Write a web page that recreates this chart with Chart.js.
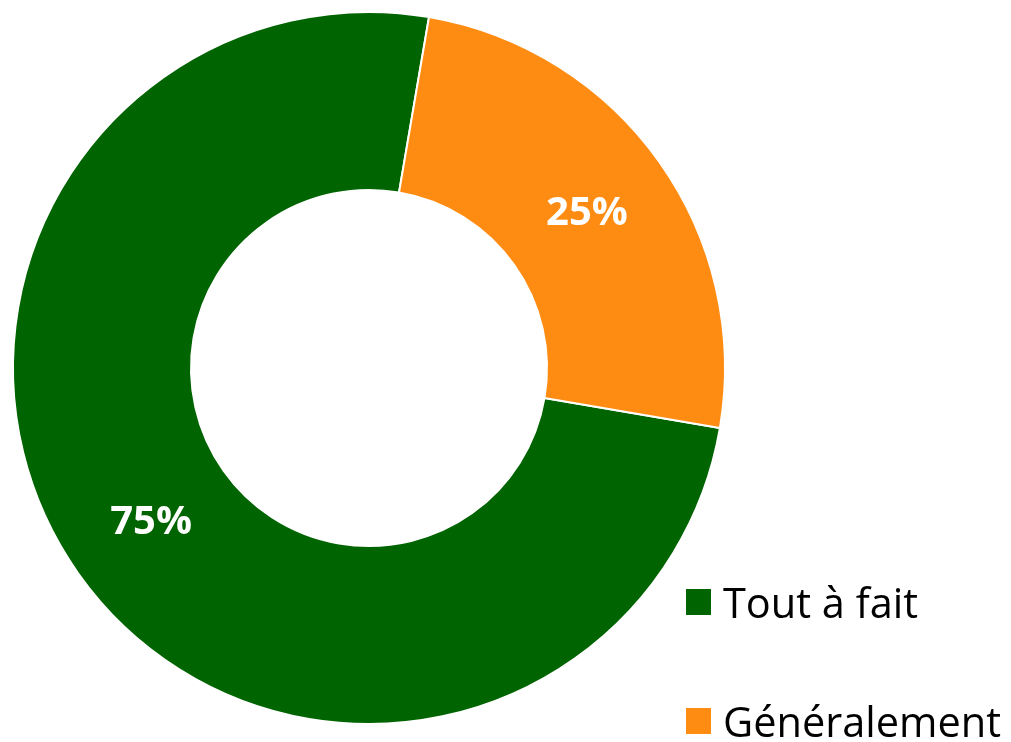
<!DOCTYPE html>
<html lang="fr">
<head>
    <meta charset="UTF-8">
    <title>Doughnut</title>
    <script src="https://cdn.jsdelivr.net/npm/chart.js@4/dist/chart.umd.min.js"></script>
    <style>
        body {
            margin: 0;
            background: #ffffff;
            font-family: 'Open Sans', sans-serif;
        }
        .wrap {
            position: relative;
            width: 1011px;
            height: 742px;
        }
        .chart-box {
            position: absolute;
            left: 0;
            top: 0;
            width: 738px;
            height: 736px;
        }
        .legend {
            position: absolute;
            left: 686px;
            top: 570px;
        }
        .legend-item {
            display: flex;
            align-items: center;
            height: 64px;
            margin-bottom: 55px;
            font-size: 41.5px;
            color: #000;
        }
        .legend-item .box {
            width: 25px;
            height: 26px;
            margin-right: 12px;
        }
    </style>
</head>
<body>
    <div class="wrap">
        <div class="chart-box">
            <canvas id="donut"></canvas>
        </div>
        <div class="legend" id="legend"></div>
    </div>

    <script>
        const categories = ['Tout à fait', 'Généralement'];
        const values = [75, 25];
        const colors = ['#006400', '#ff8c12'];

        // percent labels in the middle of each ring slice
        const sliceLabels = {
            id: 'sliceLabels',
            afterDatasetsDraw(chart) {
                const ctx = chart.ctx;
                const meta = chart.getDatasetMeta(0);
                const total = values.reduce((a, b) => a + b, 0);
                ctx.save();
                ctx.font = 'bold 40px "Open Sans"';
                ctx.fillStyle = '#ffffff';
                ctx.textAlign = 'center';
                ctx.textBaseline = 'middle';
                meta.data.forEach((arc, i) => {
                    const pos = arc.tooltipPosition();
                    const pct = Math.round(values[i] / total * 100) + '%';
                    ctx.fillText(pct, pos.x, pos.y);
                });
                ctx.restore();
            }
        };

        new Chart(document.getElementById('donut'), {
            type: 'doughnut',
            data: {
                labels: categories,
                datasets: [{
                    data: values,
                    backgroundColor: colors,
                    borderColor: '#ffffff',
                    borderWidth: 2
                }]
            },
            options: {
                responsive: true,
                maintainAspectRatio: false,
                animation: false,
                rotation: 99.7,
                cutout: '50%',
                layout: { padding: 11 },
                plugins: {
                    legend: { display: false },
                    tooltip: { enabled: false }
                }
            },
            plugins: [sliceLabels]
        });

        const legend = document.getElementById('legend');
        categories.forEach((name, i) => {
            const item = document.createElement('div');
            item.className = 'legend-item';
            const box = document.createElement('span');
            box.className = 'box';
            box.style.background = colors[i];
            item.appendChild(box);
            item.appendChild(document.createTextNode(name));
            legend.appendChild(item);
        });
    </script>
</body>
</html>
